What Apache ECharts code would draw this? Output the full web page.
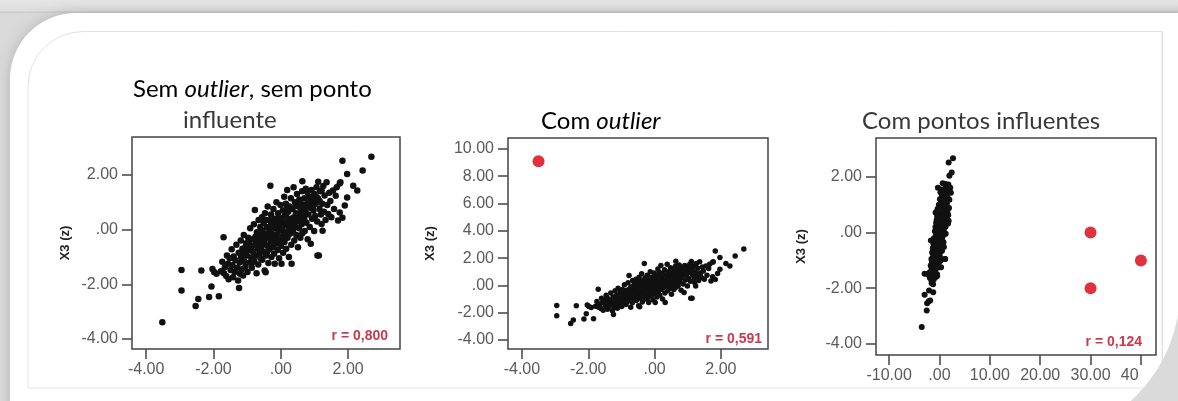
<!DOCTYPE html>
<html><head><meta charset="utf-8">
<script src="https://cdn.jsdelivr.net/npm/echarts@6/dist/echarts.min.js"></script>
<style>html,body{margin:0;padding:0;background:#dadada;}#c{width:1178px;height:401px;}</style>
</head><body><div id="c"></div>
<script>
// ---- data (z-scores) ----
const basePoints = [
[-2.95,-1.48],[-2.95,-2.23],[-2.53,-2.80],[-2.45,-2.54],[-2.36,-1.50],[-2.13,-2.47],[-2.06,-2.08],[-2.03,-1.44],[-1.98,-1.55],[-1.91,-1.62],[-1.84,-2.44],
[-1.78,-1.52],[-1.74,-1.18],[-1.70,-0.28],[-1.69,-1.60],[-1.66,-1.38],[-1.62,-1.70],[-1.60,-0.95],[-1.57,-1.25],[-1.55,-1.82],[-1.52,-1.05],[-1.49,-1.48],[-1.46,-0.72],[-1.44,-1.30],[-1.42,-1.74],[-1.40,-0.98],[-1.37,-1.55],[-1.35,-1.12],[-1.32,-0.55],[-1.30,-1.40],[-1.27,-1.86],[-1.25,-0.85],[-1.24,-2.14],[-1.22,-1.20],[-1.21,-1.62],
[-1.19,-0.40],[-1.18,-1.00],[-1.16,-1.45],[-1.14,-0.70],[-1.12,-1.68],[-1.10,-0.20],[-1.09,-1.15],[-1.07,-0.85],[-1.05,-1.35],[-1.03,-0.50],[-1.01,-0.95],[-0.99,-1.55],[-0.97,-0.30],[-0.95,-0.75],[-0.93,-1.20],[-0.91,0.05],[-0.90,-0.60],[-0.88,-1.02],[-0.86,-1.40],[-0.84,-0.35],[-0.82,-0.82],[-0.80,0.20],[-0.79,-1.15],[-0.77,0.72],[-0.76,-0.55],[-0.74,-0.95],[-0.72,-1.60],[-0.71,-0.10],[-0.69,-0.70],[-0.67,-1.28],[-0.66,0.35],[-0.64,-0.40],[-0.63,-0.88],[-0.61,0.10],[-0.60,-1.05],
[-0.59,-0.25],[-0.58,-0.62],[-0.56,0.45],[-0.55,-1.10],[-0.54,-0.05],[-0.52,-0.80],[-0.51,0.25],[-0.49,-0.45],[-0.48,-1.50],[-0.47,0.60],[-0.45,-0.18],[-0.45,-1.56],[-0.44,-0.95],[-0.42,0.10],[-0.41,-0.58],[-0.39,0.85],[-0.38,-0.30],[-0.37,-1.22],[-0.35,0.35],[-0.34,-0.72],[-0.33,0.00],[-0.31,1.61],[-0.30,-0.42],[-0.29,0.55],[-0.28,-1.00],[-0.26,-0.15],[-0.25,0.20],[-0.24,-0.65],[-0.22,0.75],[-0.21,-0.30],[-0.20,-0.88],[-0.18,0.40],[-0.18,-1.25],[-0.16,0.05],[-0.15,-0.52],[-0.13,1.00],[-0.12,-0.20],[-0.11,0.28],[-0.09,-0.75],[-0.08,0.60],[-0.07,-0.05],[-0.05,-1.05],[-0.04,0.15],[-0.03,-0.40],[-0.01,0.90],
[0.00,-0.60],[0.01,0.35],[0.02,-1.25],[0.03,0.05],[0.05,-0.25],[0.06,0.70],[0.07,-0.85],[0.09,0.20],[0.10,1.20],[0.11,-0.45],[0.12,0.50],[0.14,-0.10],[0.15,0.95],[0.16,-0.70],[0.18,0.30],[0.19,1.45],[0.20,-0.30],[0.22,0.65],[0.23,0.10],[0.24,-1.00],[0.26,0.85],[0.27,-0.15],[0.28,0.40],[0.30,1.15],[0.31,-0.55],[0.32,-1.25],[0.33,0.20],[0.35,0.75],[0.36,-0.05],[0.38,1.55],[0.39,0.45],[0.40,-0.40],[0.42,1.00],[0.43,0.10],[0.45,0.60],[0.46,-0.20],[0.48,1.30],[0.49,0.30],[0.51,-0.65],[0.52,0.85],[0.54,0.05],[0.55,1.10],[0.57,0.50],[0.58,-0.30],[0.60,0.70],
[0.62,0.20],[0.63,1.40],[0.64,-0.13],[0.64,1.77],[0.66,0.90],[0.68,0.45],[0.70,1.15],[0.71,-0.05],[0.73,0.65],[0.74,1.50],[0.76,0.25],[0.78,0.95],[0.79,1.36],[0.80,-0.35],[0.82,0.55],[0.84,1.20],[0.86,0.10],[0.88,0.80],[0.89,-0.52],[0.91,1.45],[0.93,0.40],[0.95,1.05],[0.97,0.70],[0.99,-0.05],[1.00,1.30],[1.02,0.50],[1.04,0.95],[1.06,1.55],[1.08,0.30],[1.09,-0.95],[1.10,1.15],[1.11,1.75],[1.13,-0.95],[1.15,0.75],[1.17,1.40],[1.19,0.55],
[1.21,1.43],[1.21,0.21],[1.23,0.95],[1.24,-0.04],[1.26,1.60],[1.28,0.65],[1.30,1.25],[1.33,0.35],[1.36,1.73],[1.38,0.90],[1.41,0.57],[1.44,1.35],[1.47,1.05],[1.50,0.45],[1.55,1.43],[1.58,0.75],[1.63,1.24],[1.66,1.55],[1.70,0.33],[1.75,1.69],[1.75,0.63],[1.77,1.73],[1.83,0.43],[1.83,2.52],
[1.90,0.88],[1.97,1.18],[1.97,2.04],[2.15,1.61],[2.27,1.43],[2.43,2.16],[2.69,2.67],
[-0.95,-0.45],[-0.85,-0.60],[-0.75,-0.25],[-0.65,-0.15],[-0.55,-0.35],[-0.45,0.35],[-0.35,-0.10],[-0.25,-0.45],[-0.15,0.30],[-0.05,0.45],[0.05,0.10],[0.15,0.55],[0.25,0.25],[0.35,0.40],[0.45,0.90],[0.55,0.35],[0.65,0.60],[0.75,0.80],[0.85,1.00],[0.95,0.85],[1.05,1.20],[-1.15,-0.95],[-1.05,-0.65],[-0.70,-0.45],[-0.50,-0.20],[-0.30,0.15],[-0.10,-0.35],[0.08,-0.10],[0.28,0.00],[0.40,0.20],[0.60,0.95],[0.70,0.35],[0.92,1.20],[-0.62,-0.60],[-0.20,0.10],[0.18,0.80],[-0.40,-0.80],[0.50,0.55],[-0.85,-1.20],[1.15,1.05]
];
const lowPoint = [[-3.52, -3.39]];          // lowest case (charts 1 and 3)
const outlierPoint = [[-3.5, 9.1]];         // same case moved up (chart 2)
const influentialPoints = [[30, 0], [30, -2], [40, -1]];

const xTicks1 = [-4, -2, 0, 2];
const yTicks1 = [-4, -2, 0, 2];
const xTicks2 = [-4, -2, 0, 2];
const yTicks2 = [-4, -2, 0, 2, 4, 6, 8, 10];
const xTicks3 = [-10, 0, 10, 20, 30, 40];
const yTicks3 = [-4, -2, 0, 2];

const titles = ['Sem outlier, sem ponto', 'influente', 'Com outlier', 'Com pontos influentes'];
const rLabels = ['r = 0,800', 'r = 0,591', 'r = 0,124'];
const yName = 'X3 (z)';

// ---- styling helpers ----
const fmt = v => (v === 0 ? '.00' : v.toFixed(2));
const labelFont = { fontFamily: 'Liberation Sans, Arial', fontSize: 16, color: '#5a5a5a' };
const tickStyle = { lineStyle: { color: '#444', width: 1.5 } };

function xAxis(idx, min, max, ticks) {
  return {
    type: 'value', gridIndex: idx, min, max,
    axisLine: { show: false, onZero: false }, splitLine: { show: false },
    axisTick: { show: true, inside: false, length: 10, customValues: ticks, ...tickStyle },
    axisLabel: { customValues: ticks, formatter: fmt, margin: 13, ...labelFont }
  };
}
function yAxis(idx, min, max, ticks, gap) {
  return {
    type: 'value', gridIndex: idx, min, max,
    name: yName, nameLocation: 'middle', nameGap: gap,
    nameTextStyle: { fontFamily: 'Liberation Sans, Arial', fontWeight: 'bold', fontSize: 13, color: '#222' },
    axisLine: { show: false, onZero: false }, splitLine: { show: false },
    axisTick: { show: true, inside: false, length: 10, customValues: ticks, ...tickStyle },
    axisLabel: { customValues: ticks, formatter: fmt, margin: 14, ...labelFont }
  };
}
const gridBase = { show: true, backgroundColor: '#fff', borderColor: '#444', borderWidth: 1.5, containLabel: false };
const titleFont = 'Lato, Carlito, Calibri, sans-serif';
const TS = 24;
function richTitle(text, italicWord) {
  const parts = text.split(italicWord);
  if (parts.length < 2) return '{a|' + text + '}';
  return '{a|' + parts[0] + '}{i|' + italicWord + '}{a|' + parts[1] + '}';
}
const rich = {
  a: { fontFamily: titleFont, fontSize: TS, color: '#383838' },
  i: { fontFamily: titleFont, fontSize: TS, color: '#383838', fontStyle: 'italic' }
};
const rStyle = { font: 'bold 14px "Liberation Sans", Arial', fill: '#c83a4c', align: 'right', verticalAlign: 'middle' };
const black = { color: '#111', opacity: 1 };
const red = { color: '#e0323e', opacity: 1 };

const chart = echarts.init(document.getElementById('c'), null, { renderer: 'canvas' });
chart.setOption({
  animation: false,
  backgroundColor: '#dadada',
  grid: [
    { ...gridBase, left: 132, top: 137, width: 268, height: 212 },
    { ...gridBase, left: 508, top: 138, width: 260, height: 211 },
    { ...gridBase, left: 876, top: 138, width: 280, height: 217 }
  ],
  xAxis: [xAxis(0, -4.42, 3.54, xTicks1), xAxis(1, -4.42, 3.42, xTicks2), xAxis(2, -12.6, 43, xTicks3)],
  yAxis: [yAxis(0, -4.37, 3.39, yTicks1, 60), yAxis(1, -4.66, 10.8, yTicks2, 71), yAxis(2, -4.4, 3.4, yTicks3, 68)],
  series: [
    { type: 'scatter', xAxisIndex: 0, yAxisIndex: 0, data: basePoints.concat(lowPoint), symbolSize: 6.5, itemStyle: black, silent: true },
    { type: 'scatter', xAxisIndex: 1, yAxisIndex: 1, data: basePoints, symbolSize: 5.5, itemStyle: black, silent: true },
    { type: 'scatter', xAxisIndex: 1, yAxisIndex: 1, data: outlierPoint, symbolSize: 12, itemStyle: red, silent: true },
    { type: 'scatter', xAxisIndex: 2, yAxisIndex: 2, data: basePoints.concat(lowPoint), symbolSize: 6, itemStyle: black, silent: true },
    { type: 'scatter', xAxisIndex: 2, yAxisIndex: 2, data: influentialPoints, symbolSize: 12, itemStyle: red, silent: true }
  ],
  graphic: [
    // slide background
    { type: 'rect', z: -20, shape: { x: 0, y: 0, width: 1178, height: 13 },
      style: { fill: new echarts.graphic.LinearGradient(0, 0, 0, 1, [{ offset: 0, color: '#e6e6e6' }, { offset: 0.8, color: '#dedede' }, { offset: 1, color: '#c9c9c9' }]) } },
    { type: 'rect', z: -19, shape: { x: 10, y: 13, width: 1400, height: 600, r: [66, 0, 0, 0] },
      style: { fill: '#fff', shadowBlur: 14, shadowColor: 'rgba(0,0,0,0.18)' } },
    { type: 'rect', z: -18, shape: { x: 28, y: 31.5, width: 1134, height: 356.5, r: [55, 0, 0, 0] },
      style: { fill: '#fff', stroke: '#e2e2e2', lineWidth: 1 } },
    // titles
    { type: 'text', z: 20, style: { text: richTitle(titles[0], 'outlier'), rich, x: 133, y: 89, verticalAlign: 'middle' } },
    { type: 'text', z: 20, style: { text: titles[1], x: 183, y: 120, verticalAlign: 'middle', font: TS + 'px ' + titleFont, fill: '#383838' } },
    { type: 'text', z: 20, style: { text: richTitle(titles[2], 'outlier'), rich, x: 541, y: 121, verticalAlign: 'middle' } },
    { type: 'text', z: 20, style: { text: titles[3], x: 862, y: 121, verticalAlign: 'middle', font: TS + 'px ' + titleFont, fill: '#383838' } },
    // correlation labels
    { type: 'text', z: 20, style: { text: rLabels[0], x: 388, y: 336, ...rStyle } },
    { type: 'text', z: 20, style: { text: rLabels[1], x: 762, y: 339, ...rStyle } },
    { type: 'text', z: 20, style: { text: rLabels[2], x: 1142, y: 342, ...rStyle } },
    // crop of the slide image (cuts the last tick label)
    { type: 'rect', z: 30, shape: { x: 1139, y: 366, width: 45, height: 21.5 }, style: { fill: '#fff' } },
    { type: 'rect', z: 31, shape: { x: 1162, y: 31.5, width: 1, height: 360 }, style: { fill: '#e2e2e2' } },
    { type: 'sector', z: 40, shape: { cx: 1030, cy: 290, r0: 150, r: 420, startAngle: 0, endAngle: Math.PI / 2 },
      style: { fill: '#dadada' } }
  ]
});
</script></body></html>
